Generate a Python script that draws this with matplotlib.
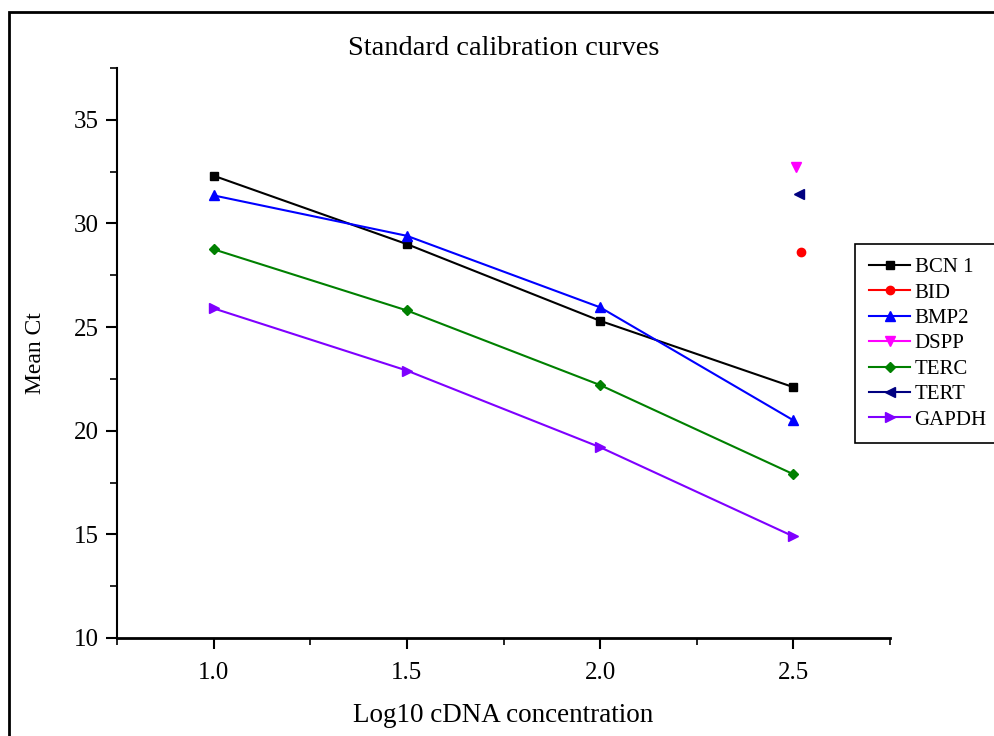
import matplotlib
matplotlib.use('Agg')
import matplotlib.pyplot as plt
from matplotlib.patches import Rectangle
from matplotlib.ticker import MultipleLocator

plt.rcParams['font.family'] = ['Liberation Serif', 'DejaVu Serif']

# data
x = [1.0, 1.5, 2.0, 2.5]
bcn1 = [32.3, 29.0, 25.3, 22.1]
bmp2 = [31.35, 29.4, 25.95, 20.5]
terc = [28.75, 25.8, 22.2, 17.9]
gapdh = [25.9, 22.9, 19.2, 14.9]

# single points near x = 2.5
bid_x, bid_y = [2.52], [28.6]
dspp_x, dspp_y = [2.508], [32.7]
tert_x, tert_y = [2.515], [31.4]

fig = plt.figure(figsize=(9.94, 7.36), dpi=100)
ax = fig.add_axes([0.1177, 0.1332, 0.7777, 0.7745])

# outer frame of the original export
fig.patches.append(Rectangle((9/994, -0.1), 1.2, (736-12)/736 + 0.1,
                             transform=fig.transFigure, fill=False,
                             edgecolor='black', lw=2))

ms = 6
ax.plot(x, bcn1, '-s', color='black', lw=1.5, ms=ms, label='BCN 1')
ax.plot(bid_x, bid_y, '-o', color='red', lw=1.5, ms=ms, label='BID')
ax.plot(x, bmp2, '-^', color='blue', lw=1.5, ms=ms+1, label='BMP2')
ax.plot(dspp_x, dspp_y, '-v', color='magenta', lw=1.5, ms=ms+1, label='DSPP')
ax.plot(x, terc, '-D', color='green', lw=1.5, ms=ms-1, label='TERC')
ax.plot(tert_x, tert_y, '-<', color='navy', lw=1.5, ms=ms+1, label='TERT')
ax.plot(x, gapdh, '->', color='#7f00ff', lw=1.5, ms=ms+1, label='GAPDH')

ax.set_xlim(0.75, 2.75)
ax.set_ylim(10, 37.5)
ax.xaxis.set_major_locator(MultipleLocator(0.5))
ax.xaxis.set_minor_locator(MultipleLocator(0.25))
ax.yaxis.set_major_locator(MultipleLocator(5))
ax.yaxis.set_minor_locator(MultipleLocator(2.5))
ax.set_xticks([1.0, 1.5, 2.0, 2.5])
ax.set_xticklabels(['1.0', '1.5', '2.0', '2.5'])

ax.spines['top'].set_visible(False)
ax.spines['right'].set_visible(False)
ax.spines['left'].set_linewidth(1.5)
ax.spines['bottom'].set_linewidth(2)
ax.tick_params(which='major', direction='out', length=8, width=1.5, labelsize=18)
ax.tick_params(axis='x', which='major', pad=9)
ax.tick_params(axis='y', which='major', pad=5)
ax.tick_params(which='minor', direction='out', length=5, width=1.2)

ax.set_title('Standard calibration curves', fontsize=20.5, pad=9)
ax.set_xlabel('Log10 cDNA concentration', fontsize=19.5, labelpad=14)
ax.set_ylabel('Mean Ct', fontsize=17, labelpad=20)

leg = ax.legend(loc='upper left', bbox_to_anchor=(0.955, 0.691), borderaxespad=0,
                fontsize=15, fancybox=False, edgecolor='black', framealpha=1,
                handlelength=2.0, handletextpad=0.2, labelspacing=0.28,
                borderpad=0.65)
leg.get_frame().set_linewidth(1.2)

fig.savefig('out.png', dpi=100)
